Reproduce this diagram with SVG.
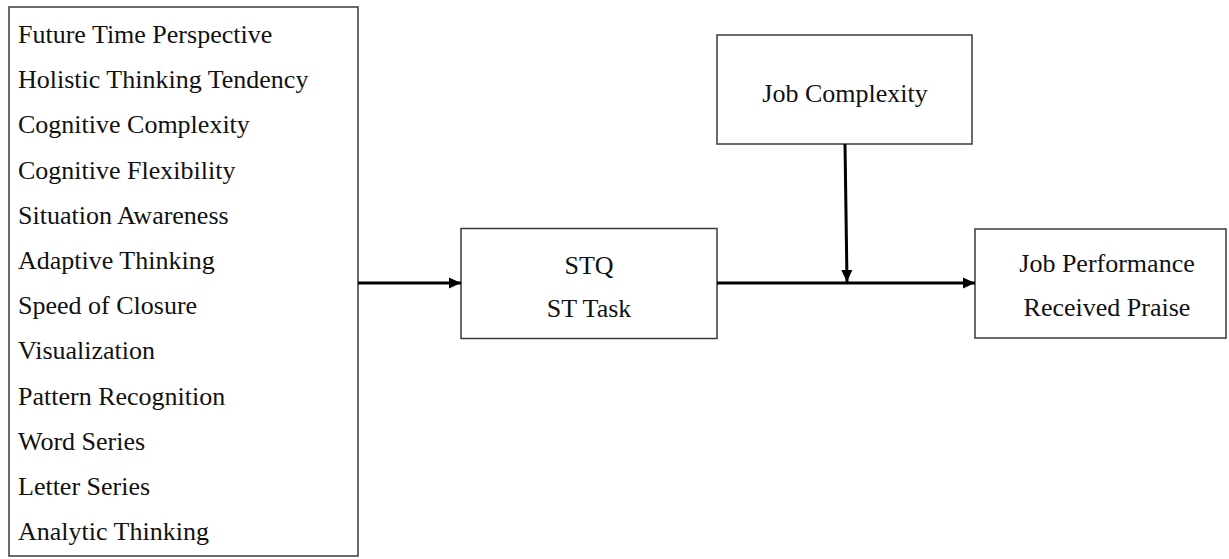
<svg xmlns="http://www.w3.org/2000/svg" width="1229" height="559" viewBox="0 0 1229 559">
<style>
.box{fill:#fff;stroke:#3a3a3a;stroke-width:1.5}
.t{font-family:"Liberation Serif","Times New Roman",serif;font-size:26px;fill:#111}
.c{text-anchor:middle}
.conn{stroke:#000;stroke-width:3;fill:none}
</style>
<defs>
<marker id="ah" markerUnits="userSpaceOnUse" markerWidth="13" markerHeight="13" refX="12" refY="6.5" orient="auto">
<path d="M0,1 L12,6.5 L0,12 Z" fill="#000"/>
</marker>
</defs>
<rect width="1229" height="559" fill="#fff"/>
<g id="predictors">
<rect class="box" x="9" y="7" width="349" height="549"/>
<text class="t" x="18" y="43">Future Time Perspective</text>
<text class="t" x="18" y="88.2">Holistic Thinking Tendency</text>
<text class="t" x="18" y="133.4">Cognitive Complexity</text>
<text class="t" x="18" y="178.6">Cognitive Flexibility</text>
<text class="t" x="18" y="223.8">Situation Awareness</text>
<text class="t" x="18" y="269">Adaptive Thinking</text>
<text class="t" x="18" y="314.2">Speed of Closure</text>
<text class="t" x="18" y="359.4">Visualization</text>
<text class="t" x="18" y="404.6">Pattern Recognition</text>
<text class="t" x="18" y="449.8">Word Series</text>
<text class="t" x="18" y="495">Letter Series</text>
<text class="t" x="18" y="540.2">Analytic Thinking</text>
</g>
<g id="stq">
<rect class="box" x="461" y="228.5" width="256" height="110"/>
<text class="t c" x="589" y="273.5">STQ</text>
<text class="t c" x="589" y="317">ST Task</text>
</g>
<g id="jobcomplexity">
<rect class="box" x="717" y="35" width="255" height="109"/>
<text class="t c" x="845" y="102">Job Complexity</text>
</g>
<g id="jobperformance">
<rect class="box" x="975" y="229" width="251" height="109"/>
<text class="t c" x="1107" y="271.5">Job Performance</text>
<text class="t c" x="1107" y="315.5">Received Praise</text>
</g>
<g id="connectors">
<line class="conn" x1="358" y1="283" x2="461" y2="283" marker-end="url(#ah)"/>
<line class="conn" x1="717" y1="283" x2="975" y2="283" marker-end="url(#ah)"/>
<line class="conn" x1="845" y1="144" x2="847" y2="282" marker-end="url(#ah)"/>
</g>
</svg>
